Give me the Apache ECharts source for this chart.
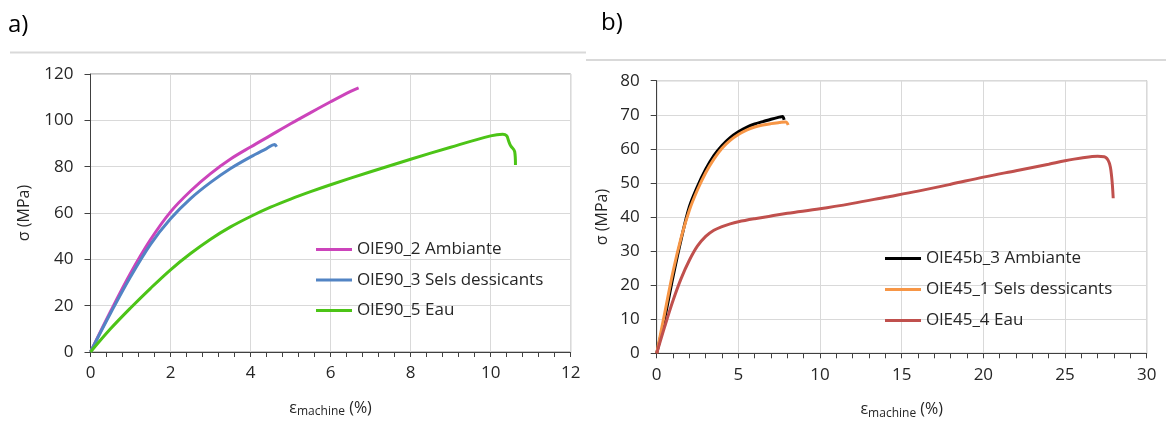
<!DOCTYPE html>
<html><head><meta charset="utf-8">
<script src="https://cdn.jsdelivr.net/npm/echarts@6/dist/echarts.min.js"></script>
<style>html,body{margin:0;padding:0;background:#fff}#c{width:1166px;height:433px}</style>
</head><body><div id="c"></div>
<script>
// ---- Data ----
// Panel a)
const namesA = ['OlE90_2 Ambiante', 'OlE90_3 Sels dessicants', 'OlE90_5 Eau'];
const ambiante90 = [[0,0],[0.5,17.5],[1,34],[1.5,48.5],[2,60.5],[2.5,69.5],[3,77],[3.5,83.3],[4,88.5],[4.5,93.5],[5,98.5],[5.5,103.3],[6,108],[6.5,112.5],[6.7,114]];
const sels90 = [[0,0],[0.5,16.7],[1,32.5],[1.5,46.5],[2,57.5],[2.5,66.2],[3,73.2],[3.5,79.2],[4,84.2],[4.4,87.8],[4.6,89.6],[4.65,88.6]];
const eau90 = [[0,0],[0.5,10],[1,19],[1.5,27.5],[2,35.5],[2.5,42.5],[3,48.7],[3.5,54],[4,58.5],[4.5,62.5],[5,66],[5.5,69.2],[6,72.2],[7,77.8],[8,83.2],[9,88.4],[10,93.3],[10.3,94],[10.4,93.3],[10.45,91],[10.5,89],[10.6,86.5],[10.62,80.7]];
// Panel b)
const namesB = ['OlE45b_3 Ambiante', 'OlE45_1 Sels dessicants', 'OlE45_4 Eau'];
const ambiante45 = [[0,0],[0.5,10.5],[1,22.5],[1.5,33.5],[2,43],[2.5,49],[3,54],[3.5,58],[4,61],[4.5,63.3],[5,65],[5.5,66.3],[6,67.3],[6.5,68],[7,68.7],[7.5,69.3],[7.7,69.5],[7.8,68.5]];
const sels45 = [[0,0],[0.5,12],[1,24],[1.5,34],[2,42],[2.5,48],[3,53],[3.5,57],[4,60.2],[4.5,62.5],[5,64.2],[5.5,65.5],[6,66.4],[6.5,67],[7,67.4],[7.5,67.7],[7.9,67.9],[8.05,67]];
const eau45 = [[0,0],[0.5,8],[1,15.5],[1.5,22],[2,27.3],[2.5,31.5],[3,34.3],[3.5,36.1],[4,37.2],[4.5,38],[5,38.6],[6,39.5],[7,40.3],[8,41.1],[10,42.4],[12,44],[14,45.8],[16,47.6],[18,49.6],[20,51.7],[22,53.6],[24,55.5],[25,56.5],[26,57.3],[27,57.8],[27.4,57.7],[27.7,56],[27.85,52],[27.95,45.5]];
// Axes
const xA = {min:0, max:12, interval:2};
const yA = {min:0, max:120, interval:20};
const xB = {min:0, max:30, interval:5};
const yB = {min:0, max:80, interval:10};
const panelLabels = ['a)', 'b)'];
const yTitle = 'σ (MPa)';

const FONT = '"Open Sans", sans-serif';
const colorsA = ['#cc44bb', '#5284c4', '#4cc417'];
const colorsB = ['#000000', '#f79646', '#c0504d'];

function xAxis(idx, r){
  return {
    type:'value', gridIndex:idx, min:r.min, max:r.max, interval:r.interval,
    name:'{e|ε}{s|machine}{e| (%)}', nameLocation:'middle', nameGap:46,
    nameTextStyle:{rich:{e:{fontFamily:FONT,fontSize:16,color:'#262626'},s:{fontFamily:FONT,fontSize:12,color:'#262626',verticalAlign:'bottom',padding:[8,0,0,0]}}},
    axisLine:{show:true,onZero:false,lineStyle:{color:'#404040',width:1}},
    axisTick:{show:true,inside:false,length:5,lineStyle:{color:'#404040'}},
    minorTick:{show:true,splitNumber:5,length:5,lineStyle:{color:'#404040'}},
    axisLabel:{fontFamily:FONT,fontSize:17,color:'#262626',margin:13},
    splitLine:{show:true,lineStyle:{color:'#d9d9d9',width:1}}
  };
}
function yAxis(idx, r, gap){
  return {
    type:'value', gridIndex:idx, min:r.min, max:r.max, interval:r.interval,
    name:yTitle, nameLocation:'middle', nameGap:gap, nameRotate:90,
    nameTextStyle:{fontFamily:FONT,fontSize:16,color:'#262626'},
    axisLine:{show:true,lineStyle:{color:'#404040',width:1}},
    axisTick:{show:true,inside:false,length:6,lineStyle:{color:'#404040'}},
    axisLabel:{fontFamily:FONT,fontSize:17,color:'#262626',margin:17},
    splitLine:{show:true,lineStyle:{color:'#d9d9d9',width:1}}
  };
}
function ser(name, data, color, xi){
  return {type:'line', name:name, data:data, xAxisIndex:xi, yAxisIndex:xi, symbol:'none', smooth:0.35,
    lineStyle:{color:color,width:3}, itemStyle:{color:color}, animation:false};
}

const chart = echarts.init(document.getElementById('c'), null, {renderer:'canvas'});
chart.setOption({
  animation:false,
  backgroundColor:'#ffffff',
  grid:[
    {left:90.5, right:595.3, top:74, bottom:81, show:true, borderColor:'#8c8c8c', borderWidth:1},
    {left:656.7, right:19.3, top:80.7, bottom:79.7, show:true, borderColor:'#8c8c8c', borderWidth:1}
  ],
  xAxis:[xAxis(0,xA), xAxis(1,xB)],
  yAxis:[yAxis(0,yA,58), yAxis(1,yB,46)],
  legend:[
    {data:namesA, orient:'vertical', left:311, top:236, icon:'rect', itemWidth:36, itemHeight:3, itemGap:13.5,
     textStyle:{fontFamily:FONT,fontSize:17,color:'#262626'}},
    {data:namesB, orient:'vertical', left:880, top:245, icon:'rect', itemWidth:36, itemHeight:3, itemGap:14,
     textStyle:{fontFamily:FONT,fontSize:17,color:'#262626'}}
  ],
  series:[
    ser(namesA[0], ambiante90, colorsA[0], 0),
    ser(namesA[1], sels90, colorsA[1], 0),
    ser(namesA[2], eau90, colorsA[2], 0),
    ser(namesB[0], ambiante45, colorsB[0], 1),
    ser(namesB[1], sels45, colorsB[1], 1),
    ser(namesB[2], eau45, colorsB[2], 1)
  ],
  graphic:[
    {type:'text', left:8, top:13, style:{text:panelLabels[0], font:'24px "Open Sans", sans-serif', fill:'#000'}},
    {type:'text', left:601, top:11, style:{text:panelLabels[1], font:'24px "Open Sans", sans-serif', fill:'#000'}},
    {type:'line', shape:{x1:10,y1:52.5,x2:586,y2:52.5}, style:{stroke:'#d9d9d9',lineWidth:2}},
    {type:'line', shape:{x1:586,y1:60,x2:1166,y2:60}, style:{stroke:'#d9d9d9',lineWidth:2}}
  ]
});
</script></body></html>
